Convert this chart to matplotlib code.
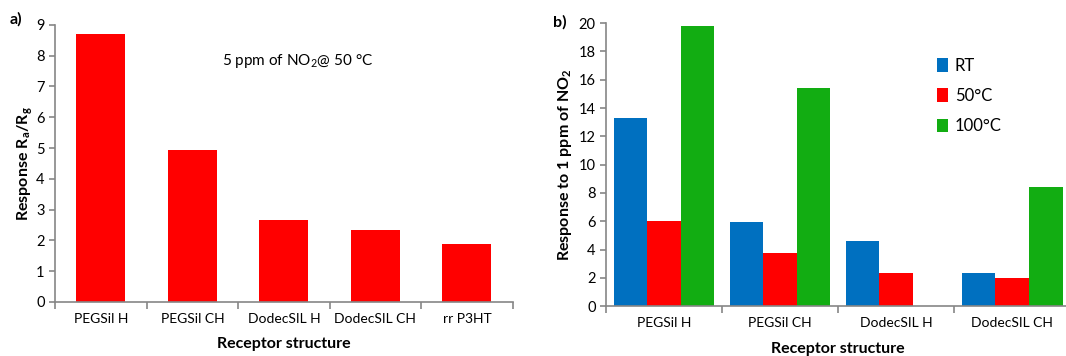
import matplotlib
matplotlib.use("Agg")
import matplotlib.pyplot as plt
import numpy as np

plt.rcParams['font.family'] = ['Lato', 'DejaVu Sans']
plt.rcParams['mathtext.fontset'] = 'custom'
plt.rcParams['mathtext.rm'] = 'Lato'
plt.rcParams['mathtext.bf'] = 'Lato:bold'
plt.rcParams['mathtext.default'] = 'regular'

# panel a data
cats_a = ['PEGSil H', 'PEGSil CH', 'DodecSIL H', 'DodecSIL CH', 'rr P3HT']
resp_a = [8.72, 4.95, 2.65, 2.33, 1.87]

# panel b data
cats_b = ['PEGSil H', 'PEGSil CH', 'DodecSIL H', 'DodecSIL CH']
series_b = ['RT', '50°C', '100°C']
rt = [13.27, 5.95, 4.60, 2.31]
t50 = [6.02, 3.78, 2.36, 1.96]
t100 = [19.81, 15.40, 0, 8.45]

red = '#FF0000'
blue = '#0070C0'
green = '#12AD12'
spine_col = '#868686'

fig = plt.figure(figsize=(10.66, 3.56), dpi=100)


def style_axes(ax, n):
    for s in ['top', 'right']:
        ax.spines[s].set_visible(False)
    for s in ['left', 'bottom']:
        ax.spines[s].set_color(spine_col)
        ax.spines[s].set_linewidth(1.2)
    ax.set_xlim(-0.5, n - 0.5)
    # category ticks at boundaries, labels at centres
    ax.set_xticks(np.arange(n + 1) - 0.5)
    ax.set_xticklabels([])
    ax.set_xticks(np.arange(n), minor=True)
    ax.tick_params(axis='x', which='major', length=5, color=spine_col, width=1.2)
    ax.tick_params(axis='x', which='minor', length=0, labelsize=10, pad=8)
    ax.tick_params(axis='y', length=4, color=spine_col, width=1.2, labelsize=10.5)


# ---- panel a
ax1 = fig.add_axes([0.0516, 0.152, 0.4294, 0.778])
x = np.arange(len(cats_a))
ax1.bar(x, resp_a, width=0.535, color=red)
style_axes(ax1, len(cats_a))
ax1.set_xticklabels(cats_a, minor=True)
ax1.set_ylim(0, 9)
ax1.set_yticks(range(0, 10))
ax1.set_ylabel(r'Response R$\mathbf{_{a}}$/R$\mathbf{_{g}}$', fontsize=11.5, fontweight='bold', labelpad=1)
ax1.set_xlabel('Receptor structure', fontsize=11.5, fontweight='bold', labelpad=9)
ax1.text(0.365, 0.855, '5 ppm of NO$_{2}$@ 50 °C', transform=ax1.transAxes, fontsize=11)
fig.text(0.009, 0.935, 'a)', fontsize=11.5, fontweight='bold')

# ---- panel b
ax2 = fig.add_axes([0.5685, 0.140, 0.4353, 0.795])
xb = np.arange(len(cats_b))
w = 0.29
ax2.bar(xb - w, rt, width=w, color=blue, label=series_b[0])
ax2.bar(xb, t50, width=w, color=red, label=series_b[1])
ax2.bar(xb + w, t100, width=w, color=green, label=series_b[2])
style_axes(ax2, len(cats_b))
ax2.set_xticklabels(cats_b, minor=True)
ax2.set_ylim(0, 20)
ax2.set_yticks(range(0, 21, 2))
ax2.set_ylabel(r'Response to 1 ppm of NO$\mathbf{_{2}}$', fontsize=11.5, fontweight='bold', labelpad=3)
ax2.set_xlabel('Receptor structure', fontsize=11.5, fontweight='bold', labelpad=9)
ax2.legend(loc='upper left', bbox_to_anchor=(0.68, 0.93), frameon=False, fontsize=12,
           handlelength=0.7, handleheight=0.9, handletextpad=0.4, labelspacing=0.85)
fig.text(0.519, 0.925, 'b)', fontsize=11.5, fontweight='bold')

fig.savefig('out.png', dpi=100)
